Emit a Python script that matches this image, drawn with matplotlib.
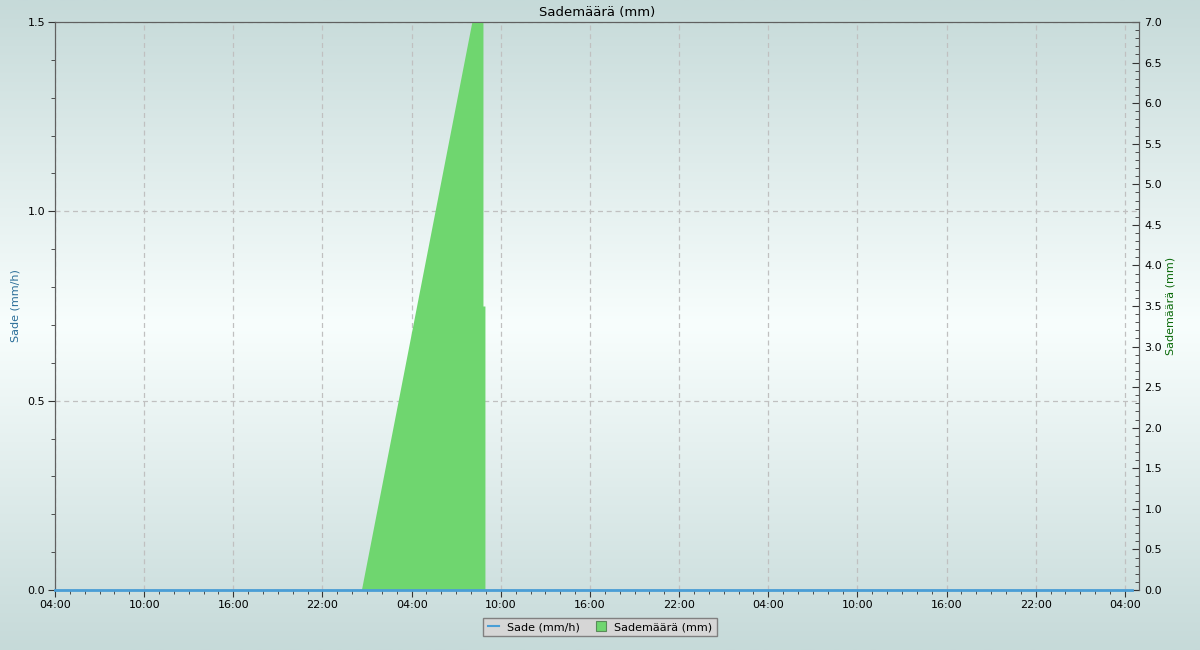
import matplotlib
matplotlib.use("Agg")
import matplotlib.pyplot as plt
import matplotlib.dates as mdates
from matplotlib.lines import Line2D
from matplotlib.ticker import MultipleLocator
import numpy as np
from datetime import datetime

# Time window of the chart
start = datetime(2024, 5, 1, 4, 0)
end = datetime(2024, 5, 4, 4, 57)

# Sade (mm/h), left axis - zero over the whole period
sade_times = [datetime(2024, 5, 1, 4, 0), datetime(2024, 5, 4, 4, 30)]
sade = [0.0, 0.0]

# Sademäärä (mm), right axis
maara_times = [datetime(2024, 5, 2, 0, 37), datetime(2024, 5, 2, 8, 3),
               datetime(2024, 5, 2, 8, 48), datetime(2024, 5, 2, 8, 48),
               datetime(2024, 5, 2, 8, 56), datetime(2024, 5, 2, 8, 56)]
maara = [0.0, 7.0, 7.0, 3.5, 3.5, 0.0]

blue = "#4a9ed6"
green = "#6fd66f"

fig = plt.figure(figsize=(12, 6.5), dpi=100)

# background gradient over the whole figure
bg = fig.add_axes([0, 0, 1, 1], zorder=-10)
top_c = np.array([0xc6, 0xda, 0xd9]) / 255
mid_c = np.array([0xf8, 0xfe, 0xfd]) / 255
yy = np.linspace(0, 1, 300)
w = np.abs(yy - 0.5) * 2
grad = (1 - w)[:, None] * mid_c + w[:, None] * top_c
bg.imshow(grad[:, None, :], aspect="auto", extent=[0, 1, 0, 1])
bg.set_axis_off()

ax = fig.add_axes([55 / 1200, 1 - 590 / 650, (1139 - 55) / 1200, (590 - 22) / 650])
ax.patch.set_visible(False)
ax2 = ax.twinx()

ax.set_xlim(start, end)
ax.set_ylim(0, 1.5)
ax2.set_ylim(0, 7.0)

# green area on right axis
ax2.fill_between(maara_times, 0, maara, color=green, linewidth=0)
# blue line on left axis scale, drawn above the area
ax2.plot(sade_times, sade, color=blue, linewidth=2, transform=ax.transData,
         clip_on=False, zorder=5)

# x axis
ax.xaxis.set_major_locator(mdates.HourLocator(byhour=[4, 10, 16, 22]))
ax.xaxis.set_minor_locator(mdates.HourLocator())
ax.xaxis.set_major_formatter(mdates.DateFormatter("%H:%M"))

ax.yaxis.set_major_locator(MultipleLocator(0.5))
ax.yaxis.set_minor_locator(MultipleLocator(0.1))
ax.yaxis.set_major_formatter(matplotlib.ticker.FormatStrFormatter("%.1f"))
ax2.yaxis.set_major_locator(MultipleLocator(0.5))
ax2.yaxis.set_minor_locator(MultipleLocator(0.1))
ax2.yaxis.set_major_formatter(matplotlib.ticker.FormatStrFormatter("%.1f"))

ax.tick_params(axis="both", which="major", labelsize=8, length=5, color="#333333", pad=2)
ax.tick_params(axis="both", which="minor", length=3, color="#333333")
ax2.tick_params(axis="y", which="major", labelsize=8, length=5, direction="in", color="#333333", pad=4)
ax2.tick_params(axis="y", which="minor", length=3, direction="in", color="#333333")

ax.grid(True, which="major", color="#c0c0c0", linestyle=(0, (4, 3)), linewidth=0.9)

for a in (ax, ax2):
    for s in a.spines.values():
        s.set_color("#606060")
ax2.spines["bottom"].set_visible(False)

ax.set_title("Sademäärä (mm)", fontsize=9.5, pad=4)
ax.set_ylabel("Sade (mm/h)", fontsize=8, color="#2a6e99", labelpad=5)
ax2.set_ylabel("Sademäärä (mm)", fontsize=8, color="#0a6a0a", labelpad=2)

handles = [Line2D([0], [0], color=blue, linewidth=1.5),
           Line2D([0], [0], color=green, marker="s", markersize=6.5, linestyle="none",
                  markeredgecolor="#5a8a5a", markeredgewidth=0.8)]
leg = fig.legend(handles, ["Sade (mm/h)", "Sademäärä (mm)"], loc="center",
                 bbox_to_anchor=(0.5, 1 - 627 / 650), ncol=2, fontsize=8,
                 frameon=True, fancybox=False, handlelength=1.0, columnspacing=1.4,
                 handletextpad=0.7, borderpad=0.4)
leg.get_frame().set_facecolor("#d6d6d6")
leg.get_frame().set_edgecolor("#808080")
leg.get_frame().set_alpha(1)

fig.savefig("out.png", dpi=100)
